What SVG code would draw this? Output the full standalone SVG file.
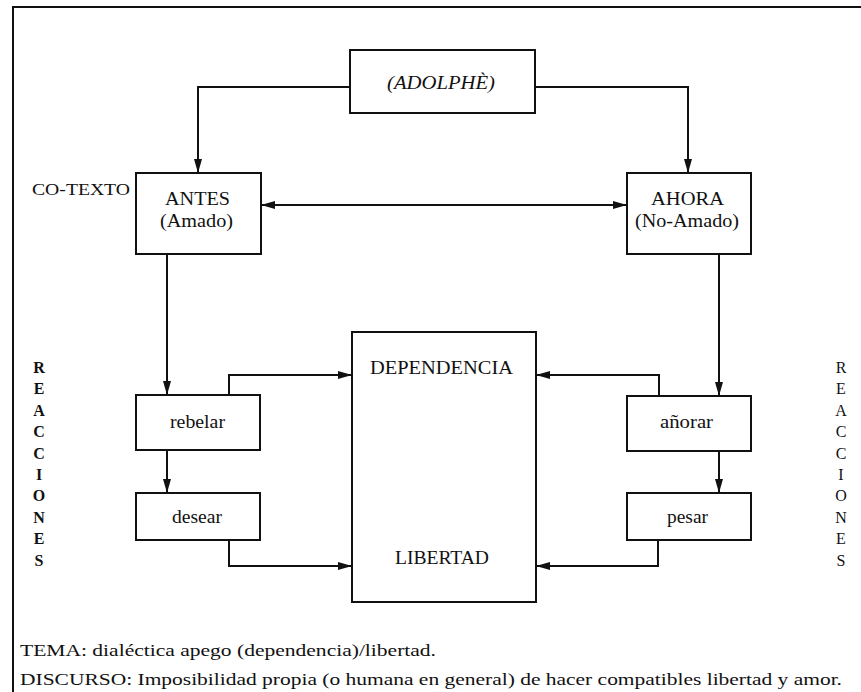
<svg xmlns="http://www.w3.org/2000/svg" width="861" height="692" viewBox="0 0 861 692" font-family="'Liberation Serif','DejaVu Serif','Times New Roman',serif">
<style>
.bx{fill:#fff;stroke:#111;stroke-width:2}
.cn{fill:none;stroke:#111;stroke-width:2}
text{font-family:"Liberation Serif","DejaVu Serif","Times New Roman",serif;fill:#111}
.n{font-size:18px;text-anchor:middle}
.s{font-size:16px}
.v{font-size:16px;text-anchor:middle;font-weight:bold}
.w{font-weight:normal}
</style>
<defs>
<marker id="ah" viewBox="0 0 14 8" refX="14" refY="4" markerWidth="14" markerHeight="8" markerUnits="userSpaceOnUse" orient="auto-start-reverse">
<path d="M0,0 L14,4 L0,8 z" fill="#111"/>
</marker>
</defs>
<rect width="861" height="692" fill="#fff"/>
<g id="frame"><path class="cn" d="M13,692 V7 H861"/></g>

<g id="connectors">
<path class="cn" d="M350,87 H198 V173" marker-end="url(#ah)"/>
<path class="cn" d="M535,87 H688 V173" marker-end="url(#ah)"/>
<path class="cn" d="M261,205 H627" marker-start="url(#ah)" marker-end="url(#ah)"/>
<path class="cn" d="M167,254 V395" marker-end="url(#ah)"/>
<path class="cn" d="M229,395 V375 H352" marker-end="url(#ah)"/>
<path class="cn" d="M719,254 V396" marker-end="url(#ah)"/>
<path class="cn" d="M659,396 V375 H536" marker-end="url(#ah)"/>
<path class="cn" d="M167,450 V493" marker-end="url(#ah)"/>
<path class="cn" d="M229,540 V566 H352" marker-end="url(#ah)"/>
<path class="cn" d="M719,451 V493" marker-end="url(#ah)"/>
<path class="cn" d="M658,540 V566 H536" marker-end="url(#ah)"/>
</g>

<g id="adolphe">
<rect class="bx" x="350" y="50" width="185" height="63"/>
<text class="n" x="441" y="89" font-style="italic" textLength="108" lengthAdjust="spacingAndGlyphs">(ADOLPHÈ)</text>
</g>
<g id="cotexto">
<text class="s" x="32" y="195" font-size="17" textLength="98" lengthAdjust="spacingAndGlyphs">CO-TEXTO</text>
</g>
<g id="antes">
<rect class="bx" x="136" y="173" width="125" height="81"/>
<text class="n" x="197.5" y="205" textLength="65" lengthAdjust="spacingAndGlyphs">ANTES</text>
<text class="n" x="196.5" y="227" textLength="73" lengthAdjust="spacingAndGlyphs">(Amado)</text>
</g>
<g id="ahora">
<rect class="bx" x="627" y="173" width="124" height="81"/>
<text class="n" x="687.5" y="205" textLength="73" lengthAdjust="spacingAndGlyphs">AHORA</text>
<text class="n" x="687" y="227" textLength="104" lengthAdjust="spacingAndGlyphs">(No-Amado)</text>
</g>
<g id="rebelar">
<rect class="bx" x="136" y="395" width="124" height="55"/>
<text class="n" x="197.5" y="428" textLength="55" lengthAdjust="spacingAndGlyphs">rebelar</text>
</g>
<g id="desear">
<rect class="bx" x="136" y="493" width="124" height="47"/>
<text class="n" x="197" y="523" textLength="50" lengthAdjust="spacingAndGlyphs">desear</text>
</g>
<g id="anorar">
<rect class="bx" x="627" y="396" width="124" height="55"/>
<text class="n" x="686.5" y="428" textLength="53" lengthAdjust="spacingAndGlyphs">añorar</text>
</g>
<g id="pesar">
<rect class="bx" x="627" y="493" width="124" height="47"/>
<text class="n" x="687.5" y="523" textLength="41" lengthAdjust="spacingAndGlyphs">pesar</text>
</g>
<g id="dependencia-libertad">
<rect class="bx" x="352" y="332" width="184" height="270"/>
<text class="n" x="441.5" y="374" textLength="143" lengthAdjust="spacingAndGlyphs">DEPENDENCIA</text>
<text class="n" x="442" y="564" textLength="94" lengthAdjust="spacingAndGlyphs">LIBERTAD</text>
</g>
<g id="reacciones-left">
<text class="v" x="39" y="373">R</text>
<text class="v" x="39" y="394.4">E</text>
<text class="v" x="39" y="415.8">A</text>
<text class="v" x="39" y="437.2">C</text>
<text class="v" x="39" y="458.6">C</text>
<text class="v" x="39" y="480">I</text>
<text class="v" x="39" y="501.4">O</text>
<text class="v" x="39" y="522.8">N</text>
<text class="v" x="39" y="544.2">E</text>
<text class="v" x="39" y="565.6">S</text>
</g>
<g id="reacciones-right">
<text class="v w" x="841" y="373">R</text>
<text class="v w" x="841" y="394.4">E</text>
<text class="v w" x="841" y="415.8">A</text>
<text class="v w" x="841" y="437.2">C</text>
<text class="v w" x="841" y="458.6">C</text>
<text class="v w" x="841" y="480">I</text>
<text class="v w" x="841" y="501.4">O</text>
<text class="v w" x="841" y="522.8">N</text>
<text class="v w" x="841" y="544.2">E</text>
<text class="v w" x="841" y="565.6">S</text>
</g>
<g id="tema">
<text class="s" x="20" y="656" textLength="416" lengthAdjust="spacingAndGlyphs">TEMA: dialéctica apego (dependencia)/libertad.</text>
</g>
<g id="discurso">
<text class="s" x="20" y="685" textLength="822" lengthAdjust="spacingAndGlyphs">DISCURSO: Imposibilidad propia (o humana en general) de hacer compatibles libertad y amor.</text>
</g>
</svg>
